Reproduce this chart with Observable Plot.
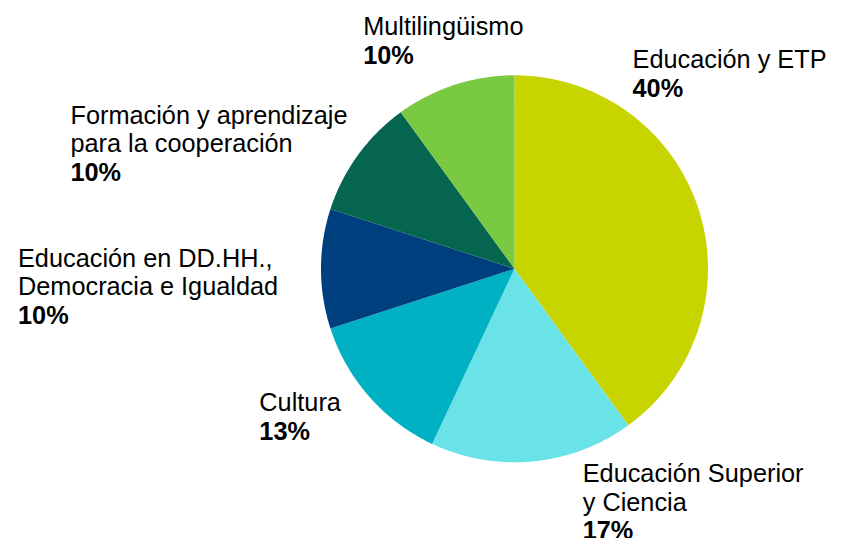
<!DOCTYPE html>
<html>
<head>
<meta charset="utf-8">
<script src="https://cdn.jsdelivr.net/npm/d3@7"></script>
<script src="https://cdn.jsdelivr.net/npm/@observablehq/plot@0.6"></script>
<style>
  html, body { margin: 0; padding: 0; background: #fff; }
  #chart svg { display: block; }
</style>
</head>
<body>
<div id="chart"></div>
<script>
// ---- Data ----
const categories = [
  "Educación y ETP",
  "Educación Superior\ny Ciencia",
  "Cultura",
  "Educación en DD.HH.,\nDemocracia e Igualdad",
  "Formación y aprendizaje\npara la cooperación",
  "Multilingüismo"
];
const shares = [40, 17, 13, 10, 10, 10];
const percentLabels = ["40%", "17%", "13%", "10%", "10%", "10%"];
const colors = ["#c8d400", "#69e3e8", "#00b1c4", "#003f7d", "#06654f", "#7ac943"];

// ---- Layout (pixels) ----
const W = 843, H = 538;
const CX = 514, CY = 268.3, R = 193.5;
const FONT = 25.3, LH = 28.5;
// label offset (px) from the rim point at each slice's mid-angle to the first baseline start
const labelOffsets = [[-66, -141], [50, 21], [-110, 14.4], [-303, -2.3], [-287.5, -31.3], [-91.5, -49.3]];

// ---- Build pie geometry ----
const arcs = d3.pie().sort(null).value(d => d)(shares);
const slices = [];
arcs.forEach((a, i) => {
  const name = categories[i];
  slices.push({name, x: 0, y: 0});
  const steps = Math.max(2, Math.ceil((a.endAngle - a.startAngle) / (Math.PI / 360)));
  for (let k = 0; k <= steps; k++) {
    const t = a.startAngle + (a.endAngle - a.startAngle) * k / steps;
    slices.push({name, x: Math.sin(t), y: Math.cos(t)});
  }
  slices.push({name, x: 0, y: 0});
});

const names = [], pcts = [];
arcs.forEach((a, i) => {
  const mid = (a.startAngle + a.endAngle) / 2;
  const [ox, oy] = labelOffsets[i];
  const nLines = categories[i].split("\n").length;
  const x = Math.sin(mid) + ox / R;
  const yFirst = Math.cos(mid) - oy / R; // first baseline (y up)
  names.push({text: categories[i], x, y: yFirst - (nLines - 1) * LH / R});
  pcts.push({text: percentLabels[i], x, y: yFirst - nLines * LH / R});
});

const chart = Plot.plot({
  width: W,
  height: H,
  margin: 0,
  x: {domain: [-CX / R, (W - CX) / R], axis: null},
  y: {domain: [-(H - CY) / R, CY / R], axis: null},
  color: {domain: categories, range: colors},
  style: {background: "#fff", fontFamily: "'Liberation Sans', Arial, sans-serif"},
  marks: [
    Plot.line(slices, {x: "x", y: "y", z: "name", fill: "name", stroke: null, curve: "linear"}),
    Plot.text(names, {x: "x", y: "y", text: "text", textAnchor: "start", lineAnchor: "bottom",
      lineHeight: LH / FONT, fontSize: FONT, fill: "#000"}),
    Plot.text(pcts, {x: "x", y: "y", text: "text", textAnchor: "start", lineAnchor: "bottom",
      fontSize: FONT, fontWeight: "bold", fill: "#000"})
  ]
});
document.getElementById("chart").appendChild(chart);
</script>
</body>
</html>
